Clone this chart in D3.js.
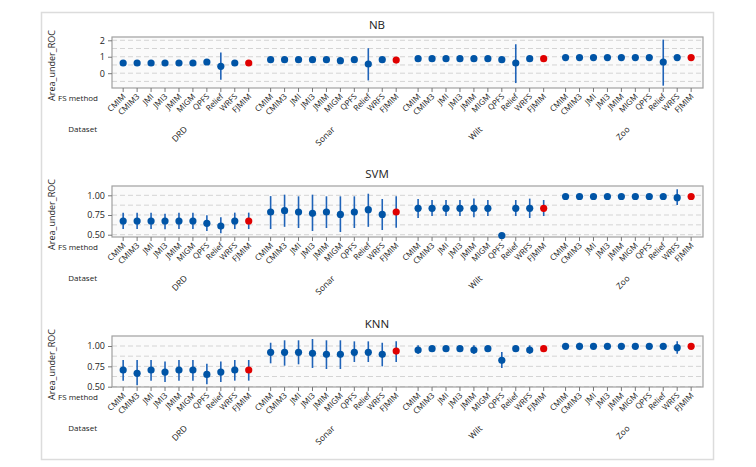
<!DOCTYPE html>
<html>
<head>
<meta charset="utf-8">
<script src="https://cdn.jsdelivr.net/npm/d3@7"></script>
<style>
  body { margin: 0; background: #fff; }
  text { font-family: "Open Sans", "Noto Sans", sans-serif; fill: #222; }
</style>
</head>
<body>
<svg id="chart" width="756" height="467"></svg>
<script>
var datasets = ["DRD", "Sonar", "Wilt", "Zoo"];
var methods = ["CMIM", "CMIM3", "JMI", "JMI3", "JMIM", "MIGM", "QPFS", "Relief", "WRFS", "FJMIM"];

// NB
var nbMean = [0.62, 0.62, 0.62, 0.62, 0.62, 0.62, 0.68, 0.42, 0.62, 0.62,
              0.82, 0.82, 0.82, 0.82, 0.82, 0.76, 0.82, 0.56, 0.82, 0.80,
              0.88, 0.88, 0.88, 0.88, 0.88, 0.88, 0.82, 0.62, 0.88, 0.88,
              0.95, 0.95, 0.95, 0.95, 0.95, 0.95, 0.95, 0.68, 0.95, 0.95];
var nbLo = [0.58, 0.58, 0.58, 0.58, 0.58, 0.58, 0.64, -0.40, 0.58, 0.58,
            0.76, 0.74, 0.74, 0.74, 0.74, 0.70, 0.78, -0.44, 0.78, 0.74,
            0.86, 0.86, 0.86, 0.86, 0.86, 0.86, 0.80, -0.60, 0.86, 0.86,
            0.94, 0.94, 0.94, 0.94, 0.94, 0.94, 0.94, -0.76, 0.94, 0.94];
var nbHi = [0.66, 0.66, 0.66, 0.66, 0.66, 0.66, 0.72, 1.26, 0.66, 0.66,
            0.88, 0.90, 0.90, 0.90, 0.90, 0.82, 0.86, 1.52, 0.86, 0.86,
            0.90, 0.90, 0.90, 0.90, 0.90, 0.90, 0.84, 1.76, 0.90, 0.90,
            0.96, 0.96, 0.96, 0.96, 0.96, 0.96, 0.96, 2.04, 0.96, 0.96];

// SVM
var svmMean = [0.674, 0.674, 0.674, 0.674, 0.674, 0.674, 0.644, 0.610, 0.674, 0.674,
               0.788, 0.805, 0.788, 0.771, 0.788, 0.758, 0.788, 0.818, 0.758, 0.788,
               0.835, 0.835, 0.835, 0.835, 0.835, 0.835, 0.490, 0.835, 0.835, 0.835,
               0.985, 0.985, 0.985, 0.985, 0.985, 0.985, 0.985, 0.985, 0.970, 0.985];
var svmLo = [0.572, 0.572, 0.572, 0.568, 0.572, 0.572, 0.547, 0.517, 0.572, 0.572,
             0.572, 0.600, 0.585, 0.547, 0.585, 0.534, 0.585, 0.600, 0.560, 0.589,
             0.712, 0.737, 0.737, 0.737, 0.720, 0.737, 0.490, 0.737, 0.712, 0.737,
             0.985, 0.985, 0.985, 0.985, 0.985, 0.985, 0.985, 0.985, 0.877, 0.985];
var svmHi = [0.780, 0.780, 0.780, 0.767, 0.780, 0.780, 0.746, 0.720, 0.780, 0.780,
             0.990, 1.008, 0.987, 1.008, 0.987, 0.987, 0.987, 1.020, 0.953, 0.987,
             0.953, 0.940, 0.940, 0.940, 0.958, 0.940, 0.490, 0.940, 0.958, 0.940,
             0.985, 0.985, 0.985, 0.985, 0.985, 0.985, 0.985, 0.985, 1.076, 0.985];

// KNN
var knnMean = [0.705, 0.664, 0.705, 0.680, 0.705, 0.705, 0.650, 0.680, 0.705, 0.705,
               0.922, 0.922, 0.922, 0.910, 0.898, 0.898, 0.922, 0.922, 0.898, 0.938,
               0.950, 0.967, 0.967, 0.967, 0.950, 0.967, 0.824, 0.967, 0.950, 0.967,
               0.996, 0.996, 0.996, 0.996, 0.996, 0.996, 0.996, 0.996, 0.980, 0.996];
var knnLo = [0.574, 0.516, 0.574, 0.557, 0.574, 0.574, 0.529, 0.557, 0.574, 0.574,
             0.787, 0.758, 0.775, 0.730, 0.717, 0.717, 0.803, 0.803, 0.750, 0.803,
             0.906, 0.950, 0.950, 0.950, 0.906, 0.950, 0.730, 0.950, 0.906, 0.950,
             0.996, 0.950, 0.996, 0.996, 0.996, 0.996, 0.996, 0.996, 0.906, 0.996];
var knnHi = [0.828, 0.828, 0.828, 0.810, 0.828, 0.828, 0.783, 0.810, 0.828, 0.828,
             1.040, 1.070, 1.070, 1.086, 1.070, 1.070, 1.057, 1.057, 1.040, 1.057,
             1.008, 0.985, 0.985, 0.985, 1.008, 0.985, 0.926, 0.985, 1.008, 0.985,
             0.996, 1.040, 0.996, 0.996, 0.996, 0.996, 0.996, 0.996, 1.057, 0.996];

var panels = [
  { title: "NB", top: 37, mean: nbMean, lo: nbLo, hi: nbHi, domain: [-0.9, 2.2], ticks: [0, 1, 2], grid: [-0.5, 0, 0.5, 1, 1.5, 2], fmt: d3.format("d") },
  { title: "SVM", top: 186, mean: svmMean, lo: svmLo, hi: svmHi, domain: [0.471, 1.118], ticks: [0.5, 0.75, 1], grid: [0.5, 0.625, 0.75, 0.875, 1], fmt: d3.format(".2f") },
  { title: "KNN", top: 336, mean: knnMean, lo: knnLo, hi: knnHi, domain: [0.496, 1.123], ticks: [0.5, 0.75, 1], grid: [0.5, 0.625, 0.75, 0.875, 1], fmt: d3.format(".2f") }
];

var svg = d3.select("#chart");
var plotH = 51, left = 112, right = 703;
var gap = 0.57;

svg.append("rect")
  .attr("x", 41.5).attr("y", 12.5)
  .attr("width", 672).attr("height", 447)
  .attr("fill", "none")
  .attr("stroke", "#dcdcdc")
  .attr("stroke-width", 1.5);

var pos = function (g, i) { return g * (methods.length + gap) + i; };
var x = d3.scaleLinear()
  .domain([-0.8, pos(datasets.length - 1, methods.length - 1) + 0.85])
  .range([left, right]);

var points = [];
datasets.forEach(function (ds, g) {
  methods.forEach(function (m, i) {
    points.push({ g: g, i: i, ds: ds, m: m, k: g * methods.length + i });
  });
});

panels.forEach(function (p) {
  var y = d3.scaleLinear().domain(p.domain).range([p.top + plotH, p.top]);
  var bottom = p.top + plotH;
  var gp = svg.append("g");

  gp.append("text")
    .attr("x", 377).attr("y", p.top - 8)
    .attr("text-anchor", "middle")
    .attr("font-size", 11.5)
    .text(p.title);

  gp.append("rect")
    .attr("x", left).attr("y", p.top)
    .attr("width", right - left).attr("height", plotH)
    .attr("fill", "#fafafa");

  gp.selectAll("line.grid").data(p.grid).enter().append("line")
    .attr("x1", left).attr("x2", right)
    .attr("y1", function (d) { return y(d); })
    .attr("y2", function (d) { return y(d); })
    .attr("stroke", "#d4d4d4")
    .attr("stroke-dasharray", "5,3");

  gp.append("rect")
    .attr("x", left).attr("y", p.top)
    .attr("width", right - left).attr("height", plotH)
    .attr("fill", "none")
    .attr("stroke", "#a0a0a0")
    .attr("stroke-width", 1.2);

  // y axis
  var ya = gp.append("g")
    .attr("transform", "translate(" + left + ",0)")
    .call(d3.axisLeft(y).tickValues(p.ticks).tickFormat(p.fmt).tickSize(4).tickPadding(3));
  ya.select(".domain").remove();
  ya.selectAll(".tick line").attr("stroke", "#777");
  ya.selectAll(".tick text").attr("font-size", 9).attr("font-family", "Open Sans, sans-serif").attr("fill", "#222");

  gp.append("text")
    .attr("transform", "translate(55," + (p.top + plotH / 2 + 3) + ") rotate(-90)")
    .attr("text-anchor", "middle")
    .attr("font-size", 9)
    .text("Area_under_ROC");

  // x ticks and labels
  gp.selectAll("line.xt").data(points).enter().append("line")
    .attr("x1", function (d) { return x(pos(d.g, d.i)); })
    .attr("x2", function (d) { return x(pos(d.g, d.i)); })
    .attr("y1", bottom).attr("y2", bottom + 4)
    .attr("stroke", "#777");

  gp.selectAll("text.xl").data(points).enter().append("text")
    .attr("transform", function (d) {
      return "translate(" + (x(pos(d.g, d.i)) + 3) + "," + (bottom + 9) + ") rotate(-45)";
    })
    .attr("text-anchor", "end")
    .attr("font-size", 8)
    .text(function (d) { return d.m; });

  gp.selectAll("text.dl").data(datasets).enter().append("text")
    .attr("transform", function (d, g) {
      var cx = (x(pos(g, 0)) + x(pos(g, methods.length - 1))) / 2;
      return "translate(" + (cx + 2) + "," + (bottom + 42) + ") rotate(-45)";
    })
    .attr("text-anchor", "end")
    .attr("font-size", 8.5)
    .text(function (d) { return d; });

  gp.append("text")
    .attr("x", 98).attr("y", bottom + 13)
    .attr("text-anchor", "end")
    .attr("font-size", 8)
    .text("FS method");

  gp.append("text")
    .attr("x", 97).attr("y", bottom + 44)
    .attr("text-anchor", "end")
    .attr("font-size", 8)
    .text("Dataset");

  // error bars and means
  gp.selectAll("line.err").data(points).enter().append("line")
    .attr("x1", function (d) { return x(pos(d.g, d.i)); })
    .attr("x2", function (d) { return x(pos(d.g, d.i)); })
    .attr("y1", function (d) { return y(p.lo[d.k]); })
    .attr("y2", function (d) { return y(p.hi[d.k]); })
    .attr("stroke", "#1f63b8")
    .attr("stroke-width", 1.6);

  gp.selectAll("circle.pt").data(points).enter().append("circle")
    .attr("cx", function (d) { return x(pos(d.g, d.i)); })
    .attr("cy", function (d) { return y(p.mean[d.k]); })
    .attr("r", 3.6)
    .attr("fill", function (d) { return d.m === "FJMIM" ? "#e00000" : "#0054a6"; });
});
</script>
</body>
</html>
